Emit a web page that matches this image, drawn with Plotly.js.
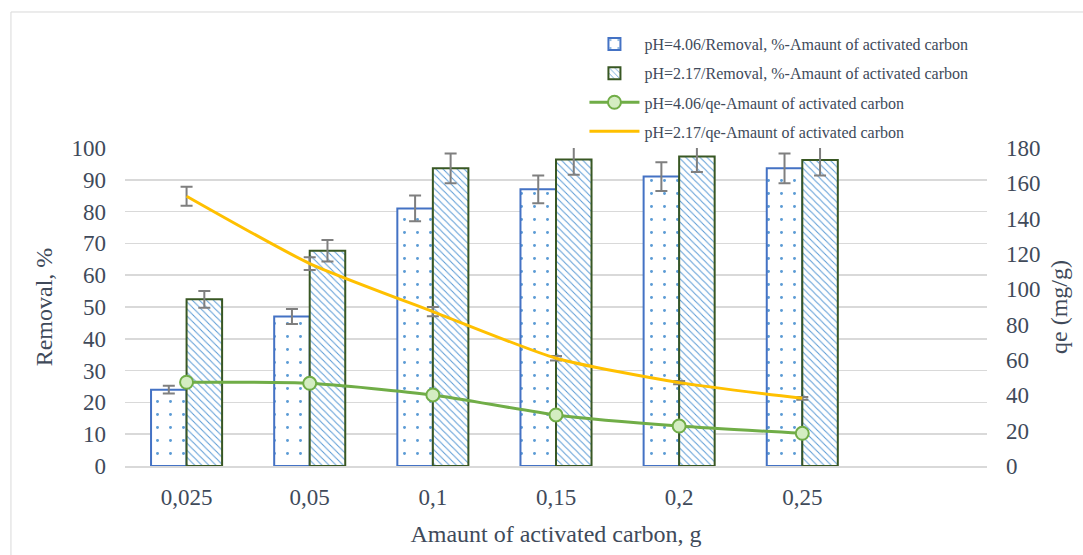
<!DOCTYPE html>
<html>
<head>
<meta charset="utf-8">
<script src="https://cdn.plot.ly/plotly-3.0.1.min.js"></script>
<style>
  html, body { margin: 0; padding: 0; background: #ffffff; }
  #chart { width: 1083px; height: 555px; }
</style>
</head>
<body>
<div id="chart"></div>
<script>
// ---- data ----
const categories = ["0,025", "0,05", "0,1", "0,15", "0,2", "0,25"];
const removalPH406 = [24, 47, 81, 87, 91, 93.6];
const removalPH217 = [52.4, 67.7, 93.6, 96.4, 97.3, 96.2];
const qePH406 = [47.4, 46.8, 40.2, 28.9, 22.6, 18.5];
const qePH217 = [152.7, 114.6, 87.4, 61, 47.2, 38.3];
const qePH217Err = [5.4, 3.6, 2.6, 1.3, 0.9, 0.8];
const removalErrPercent = 5;

const names = [
  "pH=4.06/Removal, %-Amaunt of activated carbon",
  "pH=2.17/Removal, %-Amaunt of activated carbon",
  "pH=4.06/qe-Amaunt of activated carbon",
  "pH=2.17/qe-Amaunt of activated carbon"
];

const serif = "Liberation Serif, Times New Roman, serif";
const textColor = "#404a5a";
const errColor = "#7f7f7f";

const traces = [
  {
    type: "bar", name: names[0], x: categories, y: removalPH406,
    legendgroup: "a",
    marker: {
      color: "#ffffff",
      line: { color: "#4472c4", width: 2 },
      pattern: { shape: ".", fgcolor: "#5b9bd5", bgcolor: "#ffffff", size: 13, solidity: 0.04 }
    },
    error_y: { type: "percent", value: removalErrPercent, color: errColor, thickness: 2, width: 6 }
  },
  {
    type: "bar", name: names[1], x: categories, y: removalPH217,
    legendgroup: "b",
    marker: {
      color: "#ffffff",
      line: { color: "#385723", width: 2 },
      pattern: { shape: "\\", fgcolor: "#5b9bd5", bgcolor: "#ffffff", size: 5, solidity: 0.2 }
    },
    error_y: { type: "percent", value: removalErrPercent, color: errColor, thickness: 2, width: 6 }
  },
  {
    type: "scatter", mode: "lines+markers", name: names[2], x: categories, y: qePH406,
    yaxis: "y2", legendgroup: "c",
    line: { color: "#70ad47", width: 3, shape: "spline", smoothing: 0.6 },
    marker: { symbol: "circle", size: 13, color: "#d4edc2", line: { color: "#70ad47", width: 2 } }
  },
  {
    type: "scatter", mode: "lines", name: names[3], x: categories, y: qePH217,
    yaxis: "y2", legendgroup: "d",
    line: { color: "#ffc000", width: 3, shape: "spline", smoothing: 0.6 },
    error_y: { type: "data", array: qePH217Err, color: errColor, thickness: 2, width: 6 }
  }
];

const layout = {
  width: 1083, height: 555,
  margin: { l: 125, r: 96, t: 148, b: 89 },
  paper_bgcolor: "#ffffff", plot_bgcolor: "#ffffff",
  font: { family: serif, color: textColor, size: 22 },
  barmode: "group", bargap: 0.423, bargroupgap: 0,
  showlegend: true,
  legend: {
    x: 0.533, y: 1.38, xanchor: "left", yanchor: "top",
    font: { family: serif, size: 16, color: textColor },
    itemwidth: 50,
    tracegroupgap: 5.3, bgcolor: "rgba(0,0,0,0)", traceorder: "grouped"
  },
  xaxis: {
    type: "category", range: [-0.5, 6.5],
    showgrid: false, showline: true, linecolor: "#d9d9d9", linewidth: 1.5,
    ticks: "", tickfont: { family: serif, size: 23, color: textColor },
    ticklabelstandoff: 10,
    title: { text: "Amaunt of activated carbon, g", font: { family: serif, size: 24, color: textColor }, standoff: 16 },
    fixedrange: true
  },
  yaxis: {
    range: [0, 100], dtick: 10, tick0: 0,
    showgrid: true, gridcolor: "#d9d9d9", gridwidth: 1.5,
    zeroline: false, showline: false, ticks: "",
    tickfont: { family: serif, size: 23, color: textColor },
    ticklabelstandoff: 18,
    title: { text: "Removal, %", font: { family: serif, size: 24, color: textColor }, standoff: 12 }
  },
  yaxis2: {
    overlaying: "y", side: "right", range: [0, 180], dtick: 20, tick0: 0,
    showgrid: false, zeroline: false, showline: false, ticks: "",
    tickfont: { family: serif, size: 23, color: textColor },
    ticklabelstandoff: 18,
    title: { text: "qe (mg/g)", font: { family: serif, size: 24, color: textColor }, standoff: 10 }
  },
  shapes: [
    { type: "rect", xref: "paper", yref: "paper",
      x0: -0.1323, x1: 2, y0: -0.4, y1: 1.4277,
      line: { color: "#d9d9d9", width: 1 }, fillcolor: "rgba(0,0,0,0)", layer: "below" }
  ]
};

Plotly.newPlot("chart", traces, layout, { displayModeBar: false, staticPlot: true });
</script>
</body>
</html>
